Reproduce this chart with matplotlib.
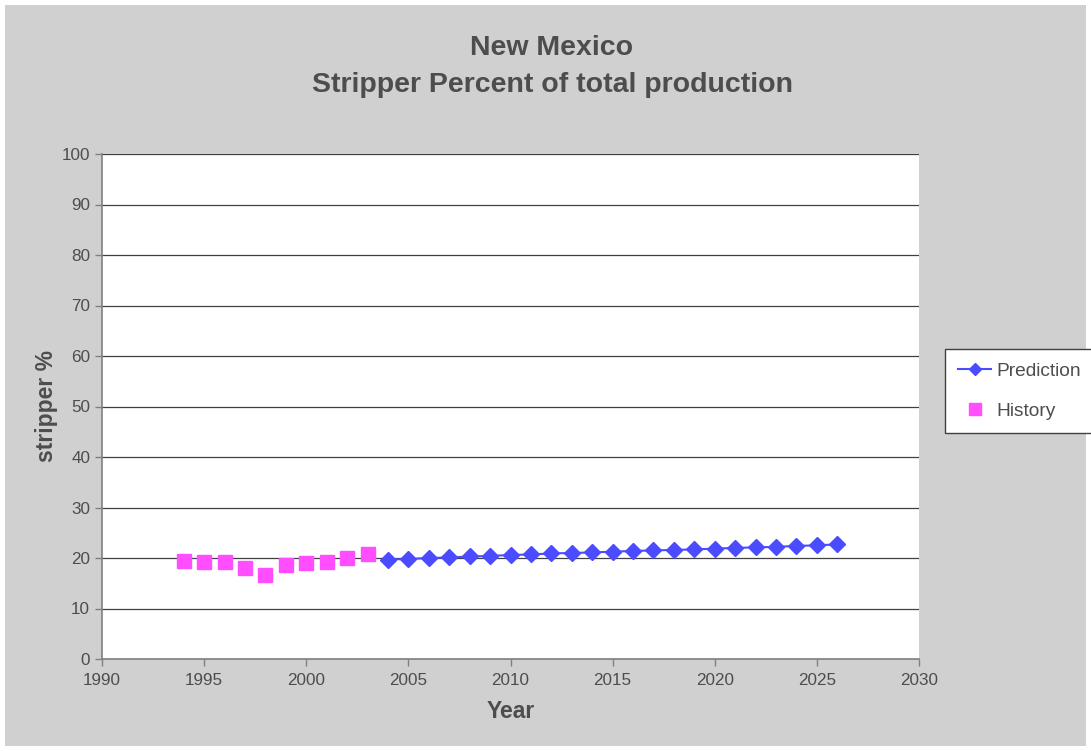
import numpy as np
import matplotlib.pyplot as plt

plt.rcParams['font.family'] = ['Liberation Sans', 'DejaVu Sans']

# history data
hist_years = [1994, 1995, 1996, 1997, 1998, 1999, 2000, 2001, 2002, 2003]
hist_pct = [19.5, 19.3, 19.2, 18.0, 16.6, 18.6, 19.1, 19.3, 20.0, 20.7]

# prediction data
pred_years = list(range(2004, 2027))
pred_pct = [19.7, 19.8, 20.0, 20.1, 20.3, 20.4, 20.6, 20.7, 20.9, 21.0, 21.1, 21.25,
            21.4, 21.5, 21.6, 21.7, 21.85, 22.0, 22.1, 22.2, 22.4, 22.5, 22.7]

txt = '#4D4D4D'
bg = '#D0D0D0'

fig = plt.figure(figsize=(10.91, 7.51), dpi=100, facecolor=bg)
# thin white margin round the gray chart area
fig.patch.set_edgecolor('white')
fig.patch.set_linewidth(5.8)

ax = fig.add_axes([102/1091, 1 - 659/751, 817/1091, 505/751])
ax.set_facecolor('white')

ax.plot(pred_years, pred_pct, color='#4B4BFF', marker='D', markersize=8,
        linewidth=1.5, label='Prediction', zorder=3)
ax.plot(hist_years, hist_pct, color='#FF4DFF', marker='s', markersize=10,
        linestyle='none', label='History', zorder=3)

ax.set_xlim(1990, 2030)
ax.set_ylim(0, 100)
ax.set_xticks(np.arange(1990, 2031, 5))
ax.set_yticks(np.arange(0, 101, 10))
ax.yaxis.grid(True, color='#404040', linewidth=0.9)
ax.set_axisbelow(True)

for side in ['top', 'right']:
    ax.spines[side].set_visible(False)
for side in ['left', 'bottom']:
    ax.spines[side].set_color('#808080')
    ax.spines[side].set_linewidth(1.2)

ax.tick_params(axis='both', colors='#808080', labelcolor=txt, labelsize=12.3,
               length=5, direction='out', width=1)
ax.tick_params(axis='x', pad=5)

ax.set_xlabel('Year', fontsize=16.5, fontweight='bold', color=txt, labelpad=9)
ax.set_ylabel('stripper %', fontsize=16.5, fontweight='bold', color=txt, labelpad=3)

fig.text(552/1091, 1 - 48/751, 'New Mexico', ha='center', va='center',
         fontsize=20.5, fontweight='bold', color=txt)
fig.text(552/1091, 1 - 85/751, 'Stripper Percent of total production', ha='center',
         va='center', fontsize=20.5, fontweight='bold', color=txt)

leg = fig.legend(loc='center left', bbox_to_anchor=(945/1091, 1 - 391/751),
                 frameon=True, fancybox=False, fontsize=13.8, labelspacing=1.2,
                 handlelength=1.7, handletextpad=0.3, borderpad=0.7,
                 borderaxespad=0, markerscale=0.8, labelcolor=txt,
                 framealpha=1)
leg.get_frame().set_edgecolor('#404040')
leg.get_frame().set_facecolor('white')
leg.get_frame().set_linewidth(1)

fig.savefig('out.png', dpi=100, facecolor=fig.get_facecolor(),
            edgecolor=fig.patch.get_edgecolor())
